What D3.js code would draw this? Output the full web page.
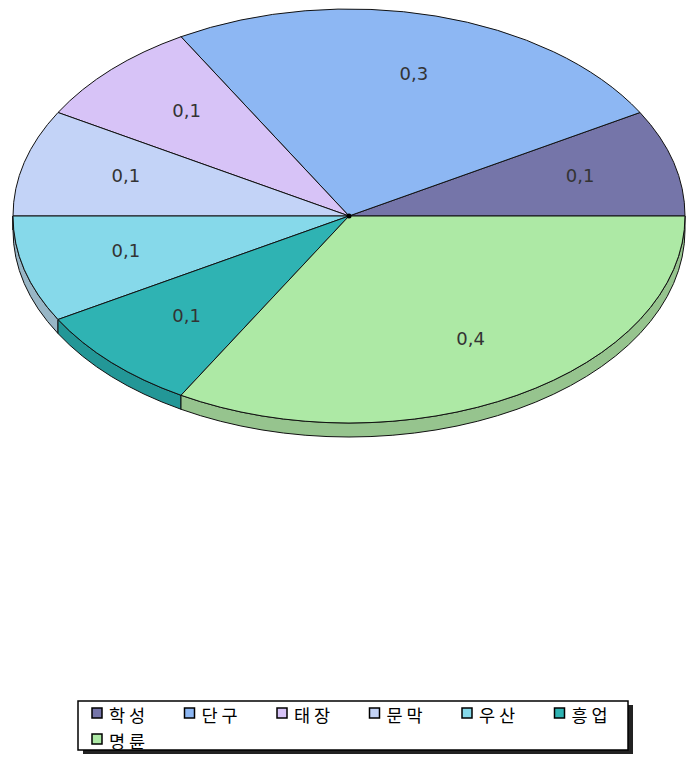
<!DOCTYPE html>
<html>
<head>
<meta charset="utf-8">
<script src="https://cdn.jsdelivr.net/npm/d3@7"></script>
<style>
    body { margin: 0; background: #fff; }
    svg { display: block; }
</style>
</head>
<body>
<svg id="chart" width="696" height="757"></svg>
<script>

// Data.

const categories = ["학성", "단구", "태장", "문막", "우산", "흥업", "명륜"];
const values = [0.1, 0.3, 0.1, 0.1, 0.1, 0.1, 0.4];
const colors = ["#7575a9", "#8db7f3", "#d7c3f7", "#c3d3f7", "#86d9ea", "#2fb3b3", "#ade9a5"];
const sideColors = ["#5c5c8a", "#6f96cc", "#b3a0d0", "#a0b0d0", "#98b6c6", "#239797", "#96c48e"];

// Geometry.

const svg = d3.select("#chart");

const pie = {
    "cx": 349,
    "cy": 216,
    "rx": 336,
    "ry": 207,
    "depth": 14,
};

const slices = d3.pie().sort(null)(values);

// d3.pie angles run from 0 to 2PI, here they are read counterclockwise from east.
function pt(theta, dy = 0) {
    return [pie.cx + pie.rx * Math.cos(theta), pie.cy - pie.ry * Math.sin(theta) + dy];
}

function arcTo(theta0, theta1, dy, ccw) {
    const p = pt(theta1, dy);
    const large = Math.abs(theta1 - theta0) > Math.PI ? 1 : 0;
    return `A${pie.rx},${pie.ry} 0 ${large} ${ccw ? 0 : 1} ${p[0]},${p[1]}`;
}

//----------------------------------------------------------------------------//
//                                    SIDES                                   //
//----------------------------------------------------------------------------//

slices.forEach((s, i) => {
    const a0 = Math.max(s.startAngle, Math.PI);
    const a1 = Math.min(s.endAngle, 2 * Math.PI);
    if (a1 <= a0) return;
    const p0 = pt(a0);
    const q1 = pt(a1, pie.depth);
    const d = `M${p0[0]},${p0[1]} ${arcTo(a0, a1, 0, true)} L${q1[0]},${q1[1]} ${arcTo(a1, a0, pie.depth, false)} Z`;
    svg.append("path")
        .attr("d", d)
        .attr("fill", sideColors[i])
        .attr("stroke", "#111")
        .attr("stroke-width", 1);
});

//----------------------------------------------------------------------------//
//                                    TOPS                                    //
//----------------------------------------------------------------------------//

slices.forEach((s, i) => {
    const p0 = pt(s.startAngle);
    const d = `M${pie.cx},${pie.cy} L${p0[0]},${p0[1]} ${arcTo(s.startAngle, s.endAngle, 0, true)} Z`;
    svg.append("path")
        .attr("d", d)
        .attr("fill", colors[i])
        .attr("stroke", "#111")
        .attr("stroke-width", 1)
        .attr("stroke-linejoin", "round");
});

svg.append("circle")
    .attr("cx", pie.cx)
    .attr("cy", pie.cy)
    .attr("r", 2.5)
    .attr("fill", "#000");

// Slice labels, a bit up and to the east of the slice middle like the Excel ones.

svg.selectAll("text.val")
    .data(slices)
    .join("text")
        .attr("class", "val")
        .attr("x", d => pie.cx + 0.7 * pie.rx * Math.cos((d.startAngle + d.endAngle) / 2) + 4)
        .attr("y", d => pie.cy - 0.7 * pie.ry * Math.sin((d.startAngle + d.endAngle) / 2) - 3)
        .attr("text-anchor", "middle")
        .attr("dominant-baseline", "central")
        .attr("font-family", "DejaVu Sans, sans-serif")
        .attr("font-size", 18)
        .attr("fill", "#333")
        .text(d => String(d.data).replace(".", ","));

//----------------------------------------------------------------------------//
//                                   LEGEND                                   //
//----------------------------------------------------------------------------//

const leg = { "x": 78, "y": 701, "w": 550, "h": 49 };

svg.append("rect")
    .attr("x", leg.x + 5)
    .attr("y", leg.y + 4)
    .attr("width", leg.w)
    .attr("height", leg.h)
    .attr("fill", "#222");

svg.append("rect")
    .attr("x", leg.x)
    .attr("y", leg.y)
    .attr("width", leg.w)
    .attr("height", leg.h)
    .attr("fill", "#fff")
    .attr("stroke", "#000")
    .attr("stroke-width", 1.5);

const item = svg.selectAll("g.item")
    .data(categories)
    .join("g")
        .attr("class", "item")
        .attr("transform", (d, i) => `translate(${leg.x + 14 + (i % 6) * 92.5}, ${leg.y + 12 + Math.floor(i / 6) * 26})`);

item.append("rect")
    .attr("x", 0)
    .attr("y", -5)
    .attr("width", 10)
    .attr("height", 10)
    .attr("fill", (d, i) => colors[i])
    .attr("stroke", "#000")
    .attr("stroke-width", 1.5);

item.append("text")
    .attr("x", 17)
    .attr("y", 1)
    .attr("dominant-baseline", "central")
    .attr("font-family", "Noto Sans CJK KR, sans-serif")
    .attr("font-size", 17.5)
    .attr("letter-spacing", 4)
    .attr("fill", "#000")
    .text(d => d);

</script>
</body>
</html>
